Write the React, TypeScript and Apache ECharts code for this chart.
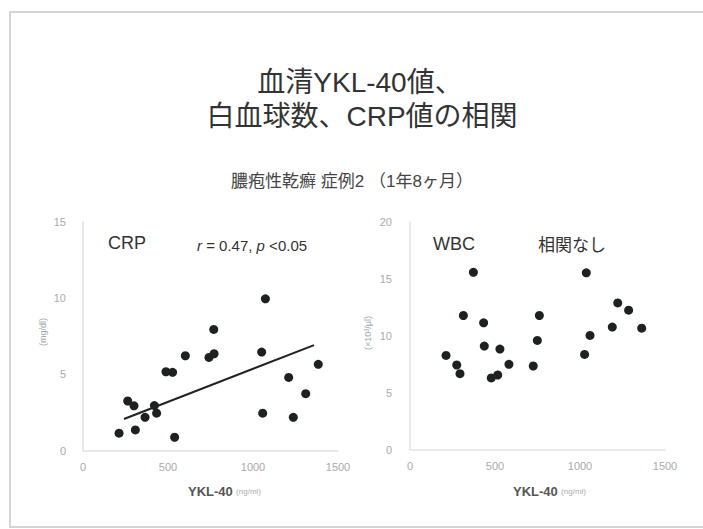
import React, { useEffect, useRef } from "react";
import * as echarts from "echarts";

// CRP panel
const crpYkl = [212, 263, 300, 308, 365, 420, 433, 488, 527, 539, 602, 741, 771, 769, 1051, 1073, 1057, 1210, 1237, 1310, 1384];
const crpVal = [1.14, 3.25, 2.93, 1.35, 2.18, 2.95, 2.45, 5.17, 5.13, 0.87, 6.22, 6.11, 6.35, 7.95, 6.46, 9.96, 2.45, 4.8, 2.18, 3.73, 5.66];
const trendX = [241, 1359];
const trendY = [2.07, 6.92];

// WBC panel
const wbcYkl = [212, 275, 294, 314, 373, 433, 437, 478, 516, 529, 582, 725, 749, 761, 1027, 1037, 1059, 1190, 1222, 1286, 1363];
const wbcVal = [8.27, 7.43, 6.67, 11.78, 15.58, 11.14, 9.09, 6.29, 6.55, 8.83, 7.49, 7.34, 9.59, 11.78, 8.36, 15.53, 10.03, 10.76, 12.89, 12.25, 10.67];

const xTicks = { min: 0, max: 1500, interval: 500 };
const crpTicks = { min: 0, max: 15, interval: 5 };
const wbcTicks = { min: 0, max: 20, interval: 5 };

const FONT = "'Liberation Sans', 'Noto Sans CJK JP', sans-serif";

export default function App() {
  const ref = useRef<HTMLDivElement>(null);
  useEffect(() => {
    document.body.style.margin = "0";
    const chart = echarts.init(ref.current!, null, { renderer: "svg" });
    const lbl = { color: "#aaaaaa", fontSize: 11, fontFamily: FONT, formatter: (v: number) => String(v) };
    const axisCommon = {
      axisLine: { show: true, lineStyle: { color: "#e2e2e2", width: 1.5 } },
      axisTick: { show: false },
      splitLine: { show: false },
    };
    const option: any = {
      animation: false,
      backgroundColor: "#ffffff",
      textStyle: { fontFamily: FONT },
      grid: [
        { left: 83, top: 222, width: 255, height: 228.5 },
        { left: 410, top: 222, width: 255, height: 227.5 },
      ],
      xAxis: [
        { type: "value", gridIndex: 0, ...xTicks, ...axisCommon, axisLabel: { ...lbl, margin: 11 } },
        { type: "value", gridIndex: 1, ...xTicks, ...axisCommon, axisLabel: { ...lbl, margin: 11 } },
      ],
      yAxis: [
        { type: "value", gridIndex: 0, ...crpTicks, ...axisCommon, axisLabel: { ...lbl, margin: 17 } },
        { type: "value", gridIndex: 1, ...wbcTicks, ...axisCommon, axisLabel: { ...lbl, margin: 18 } },
      ],
      series: [
        {
          type: "scatter",
          xAxisIndex: 0,
          yAxisIndex: 0,
          symbolSize: 9,
          itemStyle: { color: "#1d211f", opacity: 1 },
          data: crpYkl.map((x, i) => [x, crpVal[i]]),
        },
        {
          type: "line",
          xAxisIndex: 0,
          yAxisIndex: 0,
          symbol: "none",
          lineStyle: { color: "#222", width: 2 },
          data: trendX.map((x, i) => [x, trendY[i]]),
        },
        {
          type: "scatter",
          xAxisIndex: 1,
          yAxisIndex: 1,
          symbolSize: 9,
          itemStyle: { color: "#1d211f", opacity: 1 },
          data: wbcYkl.map((x, i) => [x, wbcVal[i]]),
        },
      ],
      graphic: [
        {
          type: "rect",
          shape: { x: 10, y: 12, width: 720, height: 515 },
          style: { fill: "none", stroke: "#d4d4d4", lineWidth: 2 },
          silent: true,
        },
        {
          type: "text",
          x: 360,
          y: 82,
          style: { text: "血清YKL-40値、", fontSize: 28, fill: "#333", textAlign: "center", textVerticalAlign: "middle", fontFamily: FONT },
        },
        {
          type: "text",
          x: 362,
          y: 116,
          style: { text: "白血球数、CRP値の相関", fontSize: 28, fill: "#333", textAlign: "center", textVerticalAlign: "middle", fontFamily: FONT },
        },
        {
          type: "text",
          x: 352,
          y: 181,
          style: { text: "膿疱性乾癬 症例2 （1年8ヶ月）", fontSize: 17, fill: "#444", textAlign: "center", textVerticalAlign: "middle", fontFamily: FONT },
        },
        {
          type: "text",
          x: 108,
          y: 243,
          style: { text: "CRP", fontSize: 18, fill: "#333", textAlign: "left", textVerticalAlign: "middle", fontFamily: FONT },
        },
        {
          type: "text",
          x: 197,
          y: 245,
          style: {
            text: "{i|r} = 0.47, {i|p} <0.05",
            fontSize: 15,
            fill: "#333",
            textAlign: "left",
            textVerticalAlign: "middle",
            fontFamily: FONT,
            rich: { i: { fontStyle: "italic", fontSize: 15, fill: "#333", fontFamily: FONT } },
          },
        },
        {
          type: "text",
          x: 433,
          y: 244,
          style: { text: "WBC", fontSize: 18, fill: "#333", textAlign: "left", textVerticalAlign: "middle", fontFamily: FONT },
        },
        {
          type: "text",
          x: 538,
          y: 245,
          style: { text: "相関なし", fontSize: 17, fill: "#333", textAlign: "left", textVerticalAlign: "middle", fontFamily: FONT },
        },
        {
          type: "text",
          x: 188,
          y: 491,
          style: {
            text: "{a|YKL-40} {b|(ng/ml)}",
            textAlign: "left",
            textVerticalAlign: "middle",
            rich: {
              a: { fontSize: 13, fontWeight: "bold", fill: "#555", fontFamily: FONT },
              b: { fontSize: 8, fill: "#aaa", fontFamily: FONT },
            },
          },
        },
        {
          type: "text",
          x: 513,
          y: 491,
          style: {
            text: "{a|YKL-40} {b|(ng/ml)}",
            textAlign: "left",
            textVerticalAlign: "middle",
            rich: {
              a: { fontSize: 13, fontWeight: "bold", fill: "#555", fontFamily: FONT },
              b: { fontSize: 8, fill: "#aaa", fontFamily: FONT },
            },
          },
        },
        {
          type: "text",
          x: 43,
          y: 332,
          rotation: Math.PI / 2,
          style: { text: "(mg/dl)", fontSize: 9, fill: "#9aaaa8", textAlign: "center", textVerticalAlign: "middle", fontFamily: FONT },
        },
        {
          type: "text",
          x: 368,
          y: 333,
          rotation: Math.PI / 2,
          style: { text: "(×10³/μl)", fontSize: 9, fill: "#9aaaa8", textAlign: "center", textVerticalAlign: "middle", fontFamily: FONT },
        },
      ],
    };
    chart.setOption(option);
    return () => chart.dispose();
  }, []);
  return <div ref={ref} style={{ width: 703, height: 529 }} />;
}
